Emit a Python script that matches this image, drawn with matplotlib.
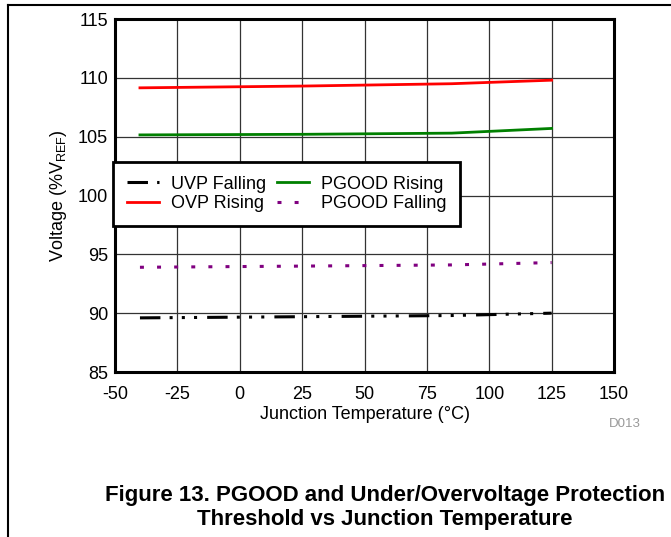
import matplotlib
matplotlib.use('Agg')
import matplotlib.pyplot as plt
from matplotlib.lines import Line2D

plt.rcParams['font.family'] = ['Liberation Sans', 'DejaVu Sans']
plt.rcParams['axes.unicode_minus'] = False

# Junction temperature points (C)
temp = [-40, 25, 85, 125]

# Threshold voltages (% of VREF)
uvp_falling = [89.6, 89.7, 89.8, 90.0]
ovp_rising = [109.15, 109.3, 109.5, 109.8]
pgood_rising = [105.15, 105.2, 105.3, 105.7]
pgood_falling = [93.9, 94.0, 94.1, 94.3]

x_ticks = [-50, -25, 0, 25, 50, 75, 100, 125, 150]
y_ticks = [85, 90, 95, 100, 105, 110, 115]

fig = plt.figure(figsize=(6.71, 5.37), dpi=100)
ax = fig.add_axes([115 / 671, 1 - 372 / 537, 499 / 671, 353 / 537])

ax.plot(temp, uvp_falling, color='black', lw=2.2,
        dashes=(6.7, 3, 1, 3, 1, 3, 1, 3.3), label='UVP Falling')
ax.plot(temp, ovp_rising, color='red', lw=2, label='OVP Rising')
ax.plot(temp, pgood_rising, color='green', lw=2, label='PGOOD Rising')
ax.plot(temp, pgood_falling, color='purple', lw=2.2, dashes=(1.3, 4.3), label='PGOOD Falling')

ax.set_xlim(-50, 150)
ax.set_ylim(85, 115)
ax.set_xticks(x_ticks)
ax.set_yticks(y_ticks)
ax.tick_params(labelsize=13, length=0)
ax.tick_params(axis='x', pad=10)
ax.tick_params(axis='y', pad=5)
ax.grid(True, color='#333333', lw=0.9)
ax.set_axisbelow(True)
for sp in ax.spines.values():
    sp.set_linewidth(2.2)

ax.set_xlabel('Junction Temperature (°C)', fontsize=13, labelpad=2)
ax.set_ylabel('Voltage (%V$_\\mathregular{REF}$)', fontsize=13, labelpad=6)

h, l = ax.get_legend_handles_labels()
leg = ax.legend(h, l, ncol=2,
                loc='upper left', bbox_to_anchor=(-0.004, 0.595), fontsize=13,
                fancybox=False, framealpha=1, edgecolor='black',
                handlelength=1.8, columnspacing=0.6, labelspacing=0.15,
                borderpad=0.75, handletextpad=0.65, borderaxespad=0)
leg.get_frame().set_linewidth(2)

fig.text(625 / 671, 1 - 424 / 537, 'D013', fontsize=9.5, color='#999999', ha='center', va='center')

fig.text(385 / 671, 1 - 495 / 537, 'Figure 13. PGOOD and Under/Overvoltage Protection',
         fontsize=16, fontweight='bold', ha='center', va='center')
fig.text(385 / 671, 1 - 520 / 537, 'Threshold vs Junction Temperature',
         fontsize=16, fontweight='bold', ha='center', va='center')

# page frame lines (top and left)
fig.add_artist(Line2D([8 / 671, 1], [1 - 5 / 537, 1 - 5 / 537], color='black', lw=1.5))
fig.add_artist(Line2D([8 / 671, 8 / 671], [0, 1 - 5 / 537], color='black', lw=1.5))

fig.savefig('out.png', dpi=100)
